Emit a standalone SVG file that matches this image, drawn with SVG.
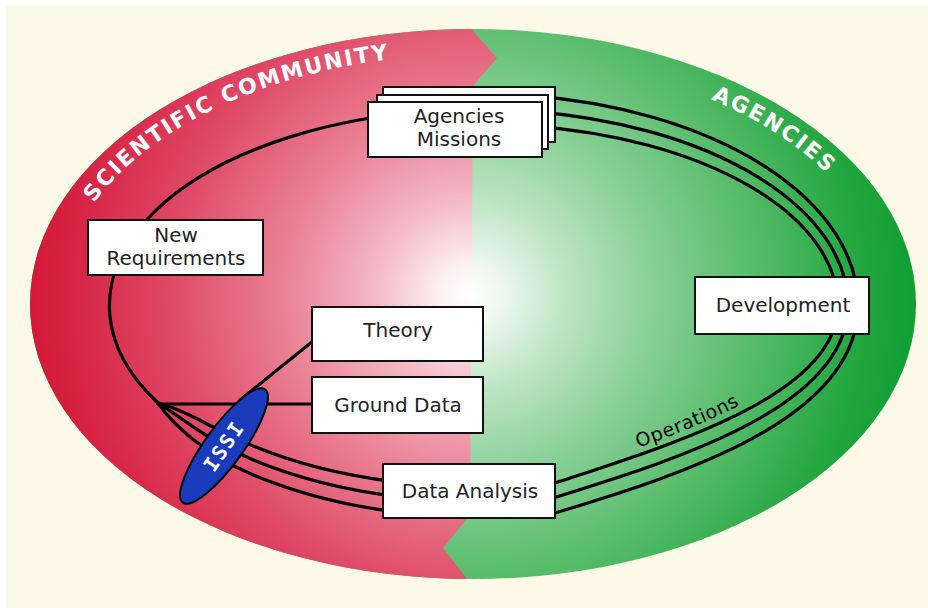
<svg xmlns="http://www.w3.org/2000/svg" width="928" height="608" viewBox="0 0 928 608">
  <defs>
    <radialGradient id="gRed" gradientUnits="userSpaceOnUse" cx="470" cy="295" r="440">
      <stop offset="0" stop-color="#ffffff"/>
      <stop offset="0.07" stop-color="#fcf0f3"/>
      <stop offset="0.22" stop-color="#f3b8c4"/>
      <stop offset="0.42" stop-color="#ea8296"/>
      <stop offset="0.68" stop-color="#df4a66"/>
      <stop offset="0.88" stop-color="#d82848"/>
      <stop offset="1" stop-color="#d41838"/>
    </radialGradient>
    <radialGradient id="gGreen" gradientUnits="userSpaceOnUse" cx="470" cy="295" r="440">
      <stop offset="0" stop-color="#ffffff"/>
      <stop offset="0.07" stop-color="#eff8f0"/>
      <stop offset="0.22" stop-color="#bce4c3"/>
      <stop offset="0.42" stop-color="#88cf96"/>
      <stop offset="0.68" stop-color="#50b964"/>
      <stop offset="0.88" stop-color="#24a741"/>
      <stop offset="1" stop-color="#12a035"/>
    </radialGradient>
    <clipPath id="redSide">
      <polygon points="0,0 472,0 472,30 497,58 473,86 470,515 443,548 468,580 468,608 0,608"/>
    </clipPath>
    <!-- baselines for the curved band labels -->
    <path id="arcScience" d="M 94 203 A 415 250 0 0 1 791 143"/>
    <path id="arcAgencies" d="M 711 99.2 A 415 250 0 0 1 888 304"/>
    <path id="arcOps" d="M 555 476 C 668 438 831 390 831 300"/>
    <style>
      .loop { fill: none; stroke: #000; stroke-width: 3.2; stroke-linecap: round; }
      .box rect { fill: #fff; stroke: #111; stroke-width: 2; }
      .box text { font-family: "DejaVu Sans", Verdana, sans-serif; font-size: 20px; fill: #222; text-anchor: middle; }
      .band { font-family: "DejaVu Sans", Verdana, sans-serif; font-weight: bold; font-size: 22px; fill: #fff; letter-spacing: 2px; }
      .ops { font-family: "DejaVu Sans", Verdana, sans-serif; font-size: 19px; fill: #000; letter-spacing: 0.6px; }
    </style>
  </defs>

  <!-- page -->
  <rect x="0" y="0" width="928" height="608" fill="#ffffff"/>
  <rect x="6" y="5" width="922" height="603" fill="#fdf9e9"/>

  <!-- two halves of the big oval -->
  <g id="regions">
    <ellipse cx="473" cy="304" rx="443" ry="275" fill="url(#gGreen)"/>
    <ellipse cx="473" cy="304" rx="443" ry="275" fill="url(#gRed)" clip-path="url(#redSide)"/>
  </g>

  <!-- connectors -->
  <g id="connectors">
    <!-- single cycle: missions back round the left to the hub -->
    <path class="loop" d="M 455 110 A 368 196 0 0 0 158 403"/>
    <!-- three parallel tracks from the hub via analysis, development to missions -->
    <path class="loop" d="M 158 403 C 190 412 210 427.6 250 444.6 A 358 181.5 0 0 0 555 483 C 670 445 838 395 838 305.5 A 358 181.5 0 0 0 530 125.8"/>
    <path class="loop" d="M 158 403 C 185 420 210 441.5 250 458.5 A 368 196 0 0 0 555 497.4 C 675 460 848 407 848 305.5 A 368 196 0 0 0 530 111.3"/>
    <path class="loop" d="M 158 403 C 175 428 210 456.5 250 473.5 A 378 211.7 0 0 0 555 513 C 680 475 858 420 858 305.5 A 378 211.7 0 0 0 530 95.7"/>
    <!-- hub links -->
    <path class="loop" d="M 158 404 L 312 404"/>
    <path class="loop" d="M 240 400 L 313 341"/>
  </g>

  <!-- band labels -->
  <g id="labels">
    <text class="band"><textPath href="#arcScience">SCIENTIFIC COMMUNITY</textPath></text>
    <text class="band"><textPath href="#arcAgencies">AGENCIES</textPath></text>
    <text class="ops"><textPath href="#arcOps" startOffset="88">Operations</textPath></text>
  </g>

  <!-- nodes -->
  <g id="agencies-missions" class="box">
    <rect x="383" y="87" width="172" height="55"/>
    <rect x="377" y="95" width="171" height="54"/>
    <rect x="368" y="102" width="174" height="55"/>
    <text x="459" y="123">Agencies</text>
    <text x="459" y="146">Missions</text>
  </g>

  <g id="new-requirements" class="box">
    <rect x="88" y="220" width="175" height="55"/>
    <text x="176" y="242">New</text>
    <text x="176" y="265">Requirements</text>
  </g>

  <g id="theory" class="box">
    <rect x="312" y="307" width="171" height="54"/>
    <text x="398" y="337">Theory</text>
  </g>

  <g id="ground-data" class="box">
    <rect x="312" y="377" width="171" height="56"/>
    <text x="398" y="412">Ground Data</text>
  </g>

  <g id="data-analysis" class="box">
    <rect x="383" y="464" width="172" height="54"/>
    <text x="470" y="498">Data Analysis</text>
  </g>

  <g id="development" class="box">
    <rect x="695" y="277" width="174" height="57"/>
    <text x="783" y="312">Development</text>
  </g>

  <g id="issi">
    <ellipse cx="224" cy="446" rx="70" ry="19" transform="rotate(-54 224 446)" fill="#1a3cbc" stroke="#000" stroke-width="2"/>
    <text x="224" y="446" transform="rotate(-56 224 446)" dy="7" text-anchor="middle" font-family="'DejaVu Sans Mono', monospace" font-weight="bold" font-size="20" letter-spacing="2" fill="#fff">ISSI</text>
  </g>
</svg>
